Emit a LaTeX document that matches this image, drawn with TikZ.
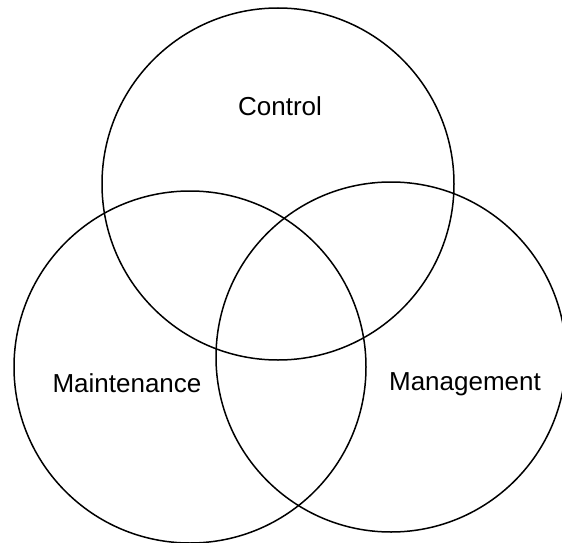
\documentclass[tikz,border=0pt]{standalone}
\usepackage{fontspec}
\setmainfont{Liberation Sans}
\tikzset{
  ring/.style={draw=black, line width=1.5pt},
  setlabel/.style={font=\fontsize{26}{30}\selectfont, inner sep=0pt}
}
\begin{document}
\begin{tikzpicture}[x=1pt,y=-1pt]
\useasboundingbox (0,0) rectangle (562,543);
\draw[ring] (278,184) circle (176pt);
\draw[ring] (190,367) circle (176pt);
\draw[ring] (391,357) circle (175pt);
\node[setlabel] (control) at (280,106) {Control};
\node[setlabel] (maintenance) at (127,383) {Maintenance};
\node[setlabel] (management) at (465,384) {Management};
\end{tikzpicture}
\end{document}
